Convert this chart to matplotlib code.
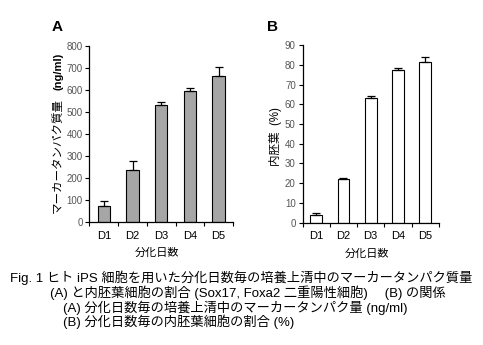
import numpy as np
import matplotlib
matplotlib.use("Agg")
import matplotlib.pyplot as plt

plt.rcParams['font.family'] = ['Liberation Sans', 'Noto Sans CJK JP', 'DejaVu Sans']

days = ["D1", "D2", "D3", "D4", "D5"]
marker_protein = [75, 238, 532, 595, 662]
marker_err = [20, 40, 13, 15, 42]
endoderm_pct = [4.0, 22.3, 63.0, 77.5, 81.3]
endoderm_err = [0.7, 0.5, 1.2, 0.8, 2.5]

caption = [
    "Fig. 1 ヒト iPS 細胞を用いた分化日数毎の培養上清中のマーカータンパク質量",
    "(A) と内胚葉細胞の割合 (Sox17, Foxa2 二重陽性細胞)　 (B) の関係",
    "(A) 分化日数毎の培養上清中のマーカータンパク量 (ng/ml)",
    "(B) 分化日数毎の内胚葉細胞の割合 (%)",
]

W, H = 483, 345
fig = plt.figure(figsize=(4.83, 3.45), dpi=100)
axA = fig.add_axes([0.1853, 0.3557, 0.297, 0.512])
axB = fig.add_axes([0.6267, 0.3545, 0.2816, 0.515])


def style_axis(ax, data, err, color, ymax, step, label_x):
    x = np.arange(len(days))
    ax.bar(x, data, width=0.43, color=color, edgecolor="black", linewidth=0.8, zorder=2)
    ax.errorbar(x, data, yerr=[np.zeros(len(err)), err], fmt="none",
                ecolor="black", elinewidth=0.9, capsize=3, capthick=0.9, zorder=3)
    ax.set_xlim(-0.5, len(days) - 0.5)
    ax.set_ylim(0, ymax)
    ax.set_yticks(np.arange(0, ymax + 1, step))
    ax.set_xticks(x)
    ax.set_xticklabels(days, fontsize=8)
    ax.set_xticks(np.arange(-0.5, len(days), 1), minor=True)
    ax.tick_params(axis="x", which="major", length=0, pad=6)
    ax.tick_params(axis="x", which="minor", length=3, width=0.8, direction="out")
    ax.tick_params(axis="y", length=3, width=0.8, labelsize=7, labelcolor="#555555", pad=2)
    for s in ["top", "right"]:
        ax.spines[s].set_visible(False)
    for s in ["left", "bottom"]:
        ax.spines[s].set_linewidth(0.9)
    ax.set_xlabel("分化日数", fontsize=8)
    ax.xaxis.set_label_coords(label_x, -0.145)


style_axis(axA, marker_protein, marker_err, "#a6a6a6", 800, 100, 0.468)
style_axis(axB, endoderm_pct, endoderm_err, "white", 90, 10, 0.476)

# y labels
fig.text(58 / W, 1 - 213 / H, "マーカータンパク質量", fontsize=8.3, rotation=90,
         ha="center", va="bottom")
fig.text(58 / W, 1 - 53 / H, "(ng/ml)", fontsize=8, fontweight="bold", rotation=90,
         ha="center", va="top")
fig.text(275 / W, 1 - 137 / H, "内胚葉  (%)", fontsize=8.3, rotation=90,
         ha="center", va="center")

fig.text(57 / W, 1 - 27 / H, "A", fontsize=11, fontweight="bold", ha="center", va="center")
fig.text(272 / W, 1 - 27 / H, "B", fontsize=11, fontweight="bold", ha="center", va="center")

ys = [278, 293, 308, 322]
xs = [10, 50, 63, 63]
for line, x, y in zip(caption, xs, ys):
    fig.text(x / W, 1 - y / H, line, fontsize=9.5, ha="left", va="center")

fig.savefig("out.png", dpi=100)
